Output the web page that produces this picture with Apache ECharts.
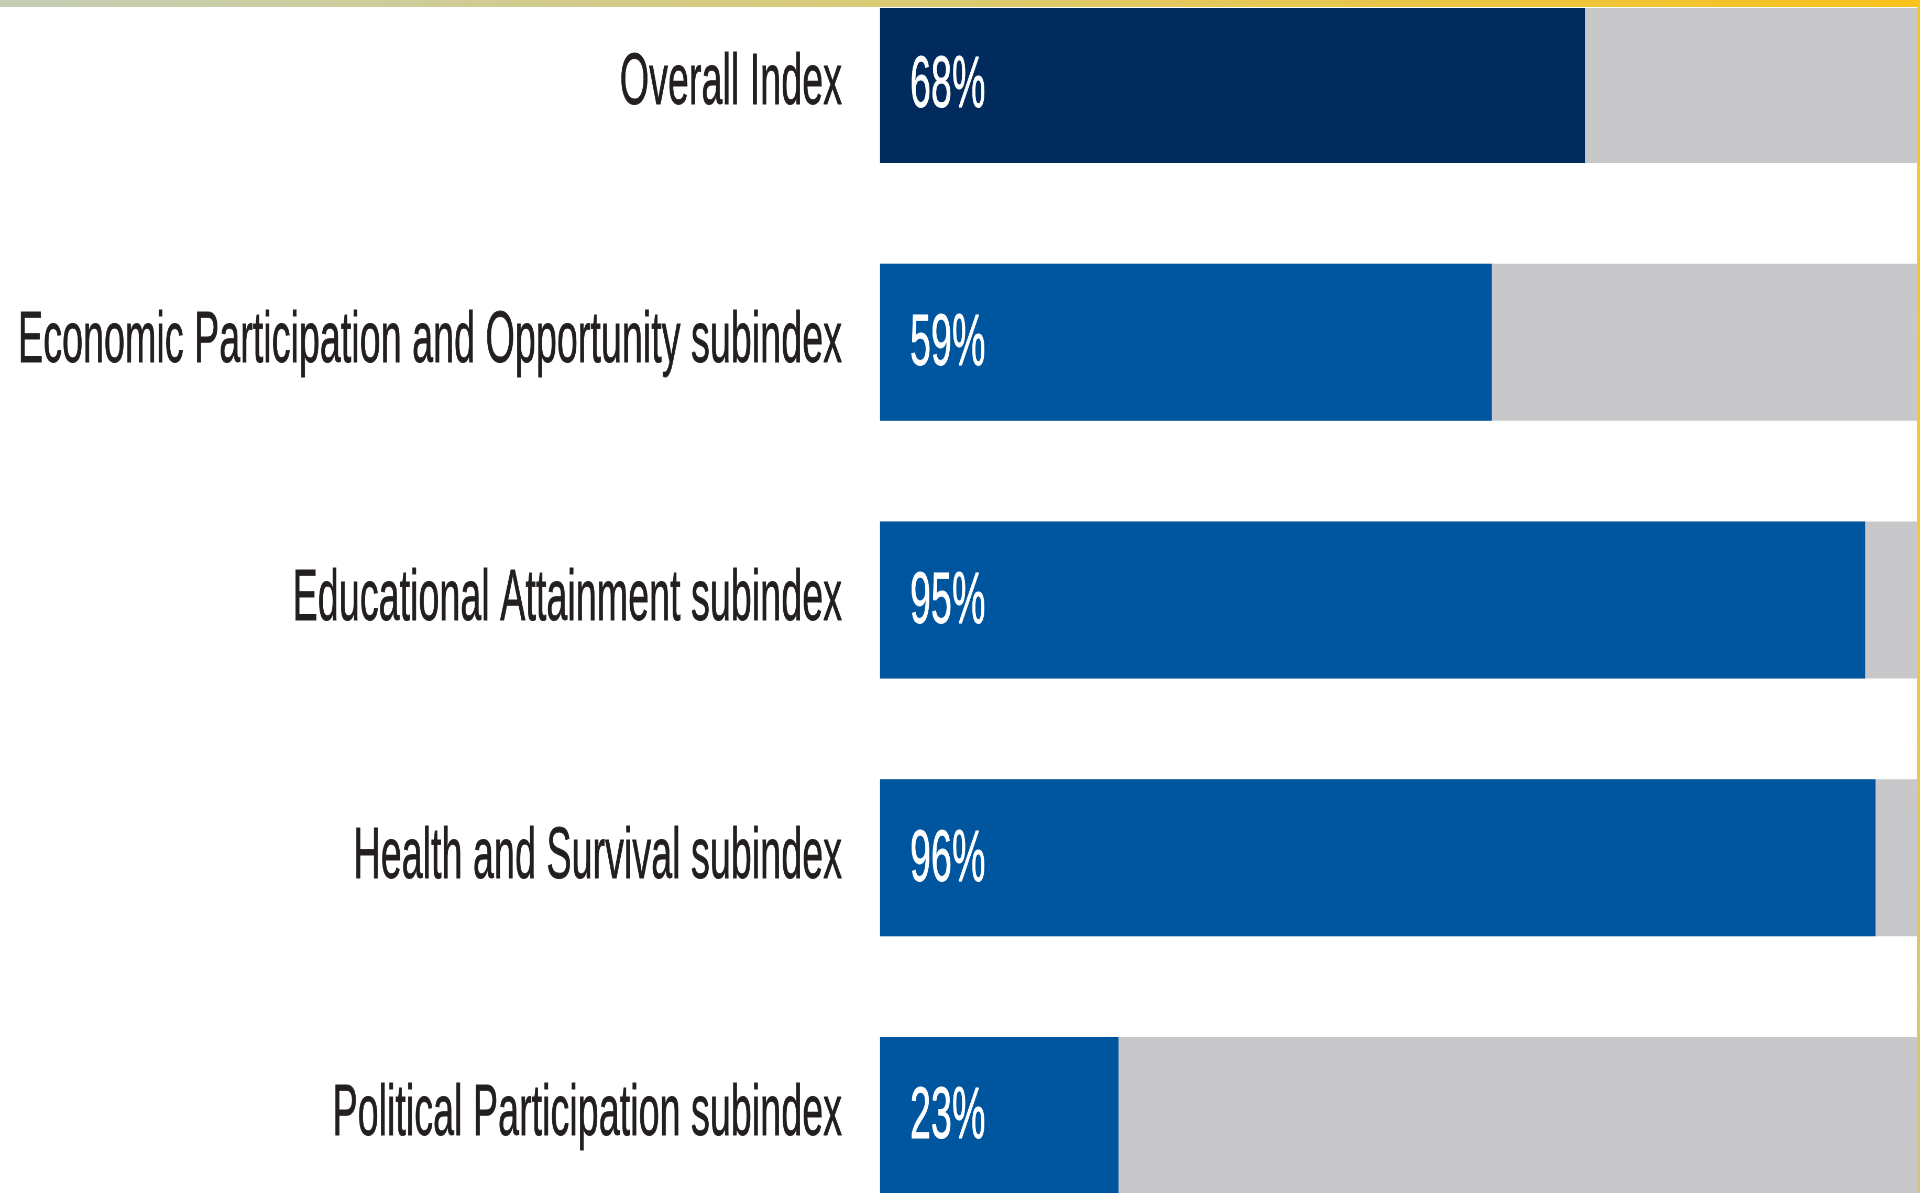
<!DOCTYPE html>
<html>
<head>
<meta charset="utf-8">
<title>Gender Gap Index</title>
<script src="https://cdn.jsdelivr.net/npm/echarts@6/dist/echarts.min.js"></script>
<style>
html, body { margin: 0; padding: 0; background: #fff; overflow: hidden; }
#wrap { width: 1920px; height: 1193px; overflow: hidden; position: relative; }
#chart { height: 1193px; transform-origin: 0 0; }
</style>
</head>
<body>
<div id="wrap"><div id="chart"></div></div>
<script>
"use strict";

/*****Data*****/
var categories = [
	'Overall Index',
	'Economic Participation and Opportunity subindex',
	'Educational Attainment subindex',
	'Health and Survival subindex',
	'Political Participation subindex'
];
var values = [68, 59, 95, 96, 23];
var barColors = ['#002b5c', '#00559f', '#00559f', '#00559f', '#00559f'];
var valueMax = 100;

/*****Condensed type: squeeze the whole chart horizontally*****/
var fontFamily = '"Liberation Sans Narrow", "Liberation Sans", Arial, sans-serif';
var fontSize = 72;
var ctx = document.createElement('canvas').getContext('2d');
ctx.font = fontSize + 'px ' + fontFamily;
var sx = 824 / ctx.measureText(categories[1]).width;
if (sx > 1) sx = 1;
var W = 1920 / sx;

var box = document.getElementById('chart');
box.style.width = W + 'px';
box.style.transform = 'scaleX(' + sx + ')';

/*****E-Charts*****/
var chart = echarts.init(box);
var option = {
	animation: false,
	grid: {
		left: 880 / sx,
		right: 3 / sx,
		top: 84.5,
		bottom: 77.5,
		containLabel: false
	},
	xAxis: {
		type: 'value',
		min: 0,
		max: valueMax,
		show: false
	},
	yAxis: {
		type: 'category',
		data: categories,
		inverse: true,
		boundaryGap: false,
		axisLine: { show: false },
		axisTick: { show: false },
		splitLine: { show: false },
		axisLabel: {
			color: '#231f20',
			fontFamily: fontFamily,
			fontSize: fontSize,
			textBorderColor: '#231f20',
			textBorderWidth: 0.8,
			padding: [6, 0, 0, 0],
			margin: 38 / sx
		}
	},
	series: [{
		type: 'bar',
		data: values.map(function (v, i) {
			return { value: v, itemStyle: { color: barColors[i] } };
		}),
		barWidth: 157,
		clip: false,
		showBackground: true,
		backgroundStyle: { color: '#c8c8ca' },
		label: {
			show: true,
			position: 'insideLeft',
			distance: 30 / sx,
			offset: [0, 3],
			color: '#ffffff',
			textBorderColor: '#ffffff',
			textBorderWidth: 0.8,
			fontFamily: fontFamily,
			fontSize: fontSize,
			formatter: '{c}%'
		}
	}],
	graphic: [
		{
			type: 'rect', z: 100, left: 0, top: 0,
			shape: { width: W, height: 7 },
			style: {
				fill: new echarts.graphic.LinearGradient(0, 0, 1, 0, [
					{ offset: 0, color: '#c4ceb6' },
					{ offset: 0.5, color: '#dcca70' },
					{ offset: 1, color: '#f9c21a' }
				])
			}
		},
		{
			type: 'rect', z: 100, left: 0, top: 7,
			shape: { width: 1917 / sx, height: 1 },
			style: { fill: '#ffffff' }
		},
		{
			type: 'rect', z: 100, left: 1917 / sx, top: 0,
			shape: { width: 3 / sx, height: 1193 },
			style: {
				fill: new echarts.graphic.LinearGradient(0, 0, 0, 1, [
					{ offset: 0, color: '#f8c41d' },
					{ offset: 0.5, color: '#f0c83c' },
					{ offset: 1, color: '#cdc67c' }
				])
			}
		}
	]
};
chart.setOption(option);
</script>
</body>
</html>
